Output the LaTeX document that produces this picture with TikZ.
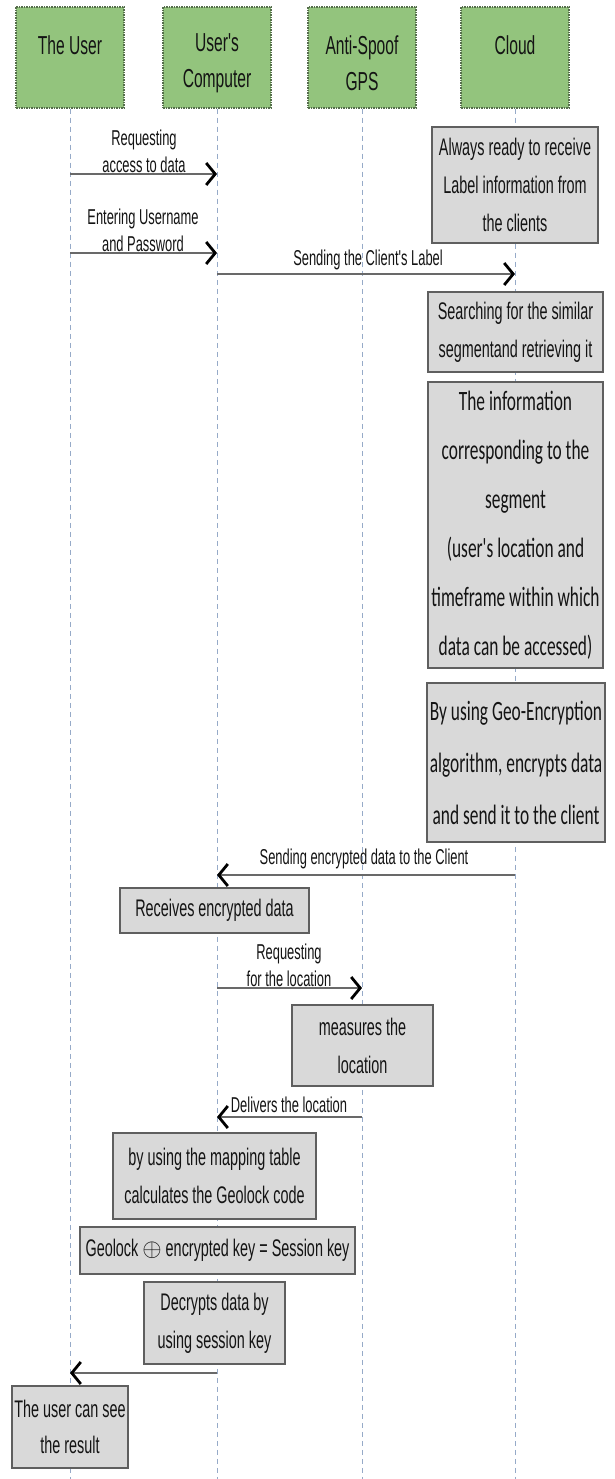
\documentclass[tikz,border=0pt]{standalone}
\usepackage{fontspec}
\setmainfont{Liberation Sans}
\newfontfamily\narfont[FakeStretch=0.6]{Liberation Sans}
\newfontfamily\calfont[FakeStretch=0.62]{Carlito}
\usetikzlibrary{arrows.meta}
\definecolor{lifec}{RGB}{150,170,200}
\definecolor{msgc}{RGB}{105,105,105}
\definecolor{boxfill}{RGB}{217,217,217}
\definecolor{boxdraw}{RGB}{95,95,95}
\definecolor{actfill}{RGB}{147,196,125}
\definecolor{actdraw}{RGB}{85,110,75}
\definecolor{txt}{RGB}{20,20,20}
\begin{document}
\begin{tikzpicture}[x=1pt,y=-1pt,
  life/.style={draw=lifec, line width=0.8pt, dash pattern=on 5pt off 4pt},
  actor/.style={fill=actfill, draw=actdraw, line width=1.5pt, densely dotted, minimum width=108pt, minimum height=101pt, inner sep=0pt},
  actortext/.style={inner sep=0pt, align=center, text=txt, font=\narfont\fontsize{26}{36}\selectfont},
  proc/.style={fill=boxfill, draw=boxdraw, line width=1.3pt, inner sep=0pt, align=center, text=txt, font=\narfont\fontsize{24}{38}\selectfont},
  proccal/.style={proc, font=\calfont\fontsize{28}{49}\selectfont},
  msg/.style={draw=msgc, line width=1.8pt, -{Straight Barb[length=9pt,width=22pt,line width=2.8pt,color=black]}},
  lbl/.style={inner sep=0pt, align=center, text=txt, font=\narfont\fontsize{21.5}{27}\selectfont}
]
\fill[white] (0,0) rectangle (614,1479);
\useasboundingbox (0,0) rectangle (614,1479);

% actors
\node[actor] (hU) at (70,57.5) {};
\node[actor] (hC) at (217,57.5) {};
\node[actor] (hG) at (362,57.5) {};
\node[actor] (hK) at (515,57.5) {};
\node[actortext] (tU) at (70,45) {The User};
\node[actortext] (tC) at (217,63) {User's\\Computer};
\node[actortext] (tG) at (362,63) {Anti-Spoof\\GPS};
\node[actortext] (tK) at (515,45) {Cloud};

% lifelines
\coordinate (uB) at (70,1479);
\coordinate (cB) at (217,1479);
\coordinate (gB) at (362,1479);
\coordinate (kB) at (515,1479);
\draw[life] (hU.south) -- (uB);
\draw[life] (hC.south) -- (cB);
\draw[life] (hG.south) -- (gB);
\draw[life] (hK.south) -- (kB);

% message end points
\coordinate (a1s) at (70,174);  \coordinate (a1e) at (217,174);
\coordinate (a2s) at (70,253);  \coordinate (a2e) at (217,253);
\coordinate (a3s) at (217,274); \coordinate (a3e) at (515,274);
\coordinate (a4s) at (515,875); \coordinate (a4e) at (217,875);
\coordinate (a5s) at (217,988); \coordinate (a5e) at (362,988);
\coordinate (a6s) at (362,1117); \coordinate (a6e) at (217,1117);
\coordinate (a7s) at (217,1373); \coordinate (a7e) at (70,1373);

% process boxes
\node[proc, minimum width=166pt, minimum height=116pt] (b1) at (515,185) {Always ready to receive\\Label information from\\the clients};
\node[proc, minimum width=175pt, minimum height=80pt] (b2) at (515.5,332) {Searching for the similar\\segmentand retrieving it};
\node[proccal, minimum width=175pt, minimum height=286pt] (b3) at (515.5,525) {The information\\corresponding to the\\segment\\(user's location and\\timeframe within which\\data can be accessed)};
\node[proccal, minimum width=178pt, minimum height=159pt, font=\calfont\fontsize{28}{52}\selectfont] (b4) at (516,762.5) {By using Geo-Encryption\\algorithm, encrypts data\\and send it to the client};
\node[proc, minimum width=189pt, minimum height=45pt] (b5) at (214.5,910.5) {Receives encrypted data};
\node[proc, minimum width=141pt, minimum height=81pt] (b6) at (362.5,1045.5) {measures the\\location};
\node[proc, minimum width=203pt, minimum height=86pt] (b7) at (214.5,1176) {by using the mapping table\\calculates the Geolock code};
\node[proc, minimum width=275pt, minimum height=47pt] (b8) at (217.5,1250.5) {Geolock $\oplus$ encrypted key = Session key};
\node[proc, minimum width=141pt, minimum height=82pt] (b9) at (214.5,1323) {Decrypts data by\\using session key};
\node[proc, minimum width=116pt, minimum height=82pt, font=\narfont\fontsize{24}{36}\selectfont] (b10) at (70,1427) {The user can see\\the result};

% messages
\draw[msg] (a1s) -- (a1e);
\draw[msg] (a2s) -- (a2e);
\draw[msg] (a3s) -- (a3e);
\draw[msg] (a4s) -- (a4e);
\draw[msg] (a5s) -- (a5e);
\draw[msg] (a6s) -- (a6e);
\draw[msg] (a7s) -- (a7e);

% message labels
\node[lbl] (l1) at (144,151) {Requesting\\access to data};
\node[lbl] (l2) at (143,230) {Entering Username\\and Password};
\node[lbl] (l3) at (368,260) {Sending the Client's Label};
\node[lbl] (l4) at (364,859) {Sending encrypted data to the Client};
\node[lbl] (l5) at (289,965) {Requesting\\for the location};
\node[lbl] (l6) at (289,1105) {Delivers the location};
\end{tikzpicture}
\end{document}
